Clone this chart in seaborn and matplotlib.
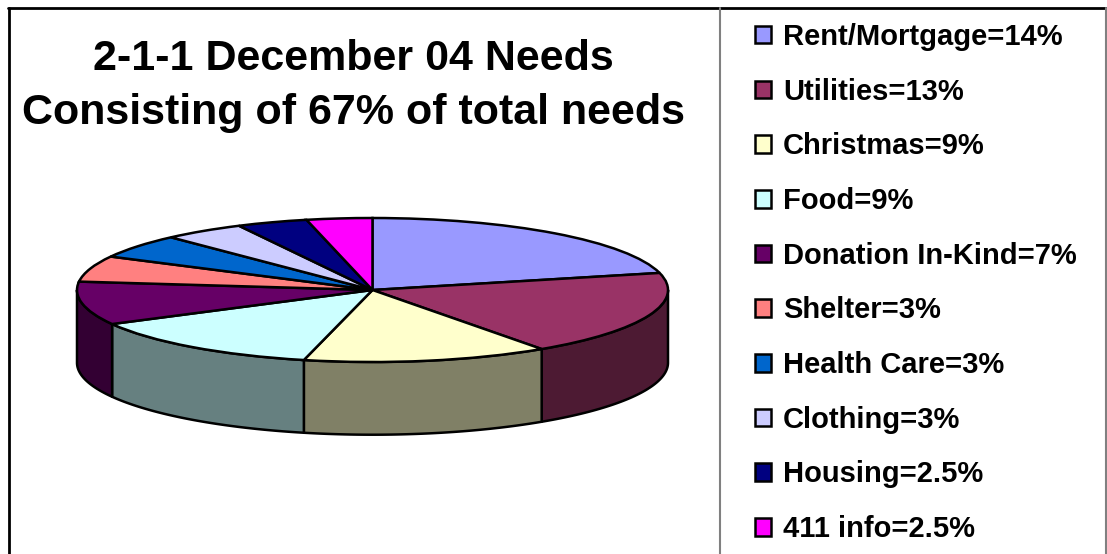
import numpy as np
import seaborn as sns
import matplotlib.pyplot as plt
from matplotlib.lines import Line2D
from matplotlib.patches import Patch

# === Data ===
title = "2-1-1 December 04 Needs\nConsisting of 67% of total needs"
labels = ["Rent/Mortgage=14%", "Utilities=13%", "Christmas=9%", "Food=9%",
          "Donation In-Kind=7%", "Shelter=3%", "Health Care=3%", "Clothing=3%",
          "Housing=2.5%", "411 info=2.5%"]
shares = [14.2, 12.8, 9.0, 9.0, 6.5, 3.9, 3.6, 3.0, 2.6, 2.4]
colors = ["#9999FF", "#993366", "#FFFFCC", "#CCFFFF", "#660066",
          "#FF8080", "#0066CC", "#CCCCFF", "#000080", "#FF00FF"]

W, H = 1107, 554
DEPTH = 1.01  # rim height, in pie radii

sns.set_theme(style="white")
plt.rcParams['font.family'] = ['Liberation Sans', 'DejaVu Sans']
palette = sns.color_palette(colors)

fig = plt.figure(figsize=(W / 100, H / 100), dpi=100, facecolor="white")
ax = fig.add_axes([77 / W, 1 - 362 / H, 591 / W, 144 / H])

# === Rim of the pie (only the front half shows) ===
edges = np.cumsum([0] + shares) / sum(shares) * 360
for i, c in enumerate(palette):
    a0, a1 = max(edges[i], 90), min(edges[i + 1], 270)
    if a0 >= a1:
        continue
    t = np.radians(np.linspace(a0, a1, 80))
    x, y = np.sin(t), np.cos(t)
    px = np.r_[x, x[::-1]]
    py = np.r_[y, y[::-1] - DEPTH]
    ax.fill(px, py, facecolor=[v * 0.5 for v in c], edgecolor="black",
            linewidth=1.8, joinstyle="round", clip_on=False)

# === Top of the pie ===
wedges, _ = ax.pie(shares, colors=palette, startangle=90, counterclock=False,
                   radius=1, wedgeprops=dict(edgecolor="black", linewidth=1.8))
for w in wedges:
    w.set_clip_on(False)
ax.set_aspect("auto")
ax.set_xlim(-1, 1)
ax.set_ylim(-1, 1)
ax.axis("off")

# === Title ===
fig.text(353 / W, 1 - 86 / H, title, ha="center", va="center", fontsize=31,
         fontweight="bold", color="black", linespacing=1.45)

# === Legend ===
handles = [Patch(facecolor=c, edgecolor="black", linewidth=1.8) for c in palette]
fig.legend(handles, labels, loc="upper left", bbox_to_anchor=(755 / W, 1 - 23 / H),
           frameon=False, prop=dict(size=21, weight="bold"), labelcolor="black",
           handlelength=0.55, handleheight=0.55, handletextpad=0.41,
           labelspacing=0.915, borderpad=0, borderaxespad=0)

# === Frame ===
fig.add_artist(Line2D([9 / W, 9 / W], [0, 1 - 8 / H], color="black", linewidth=2))
fig.add_artist(Line2D([8 / W, 1], [1 - 8 / H, 1 - 8 / H], color="black", linewidth=2))
fig.add_artist(Line2D([719.5 / W, 719.5 / W], [0, 1 - 8 / H], color="#808080", linewidth=1.5))
fig.add_artist(Line2D([1106 / W, 1106 / W], [0, 1 - 8 / H], color="#808080", linewidth=1.5))

plt.savefig("out.png", dpi=100)
plt.close()
